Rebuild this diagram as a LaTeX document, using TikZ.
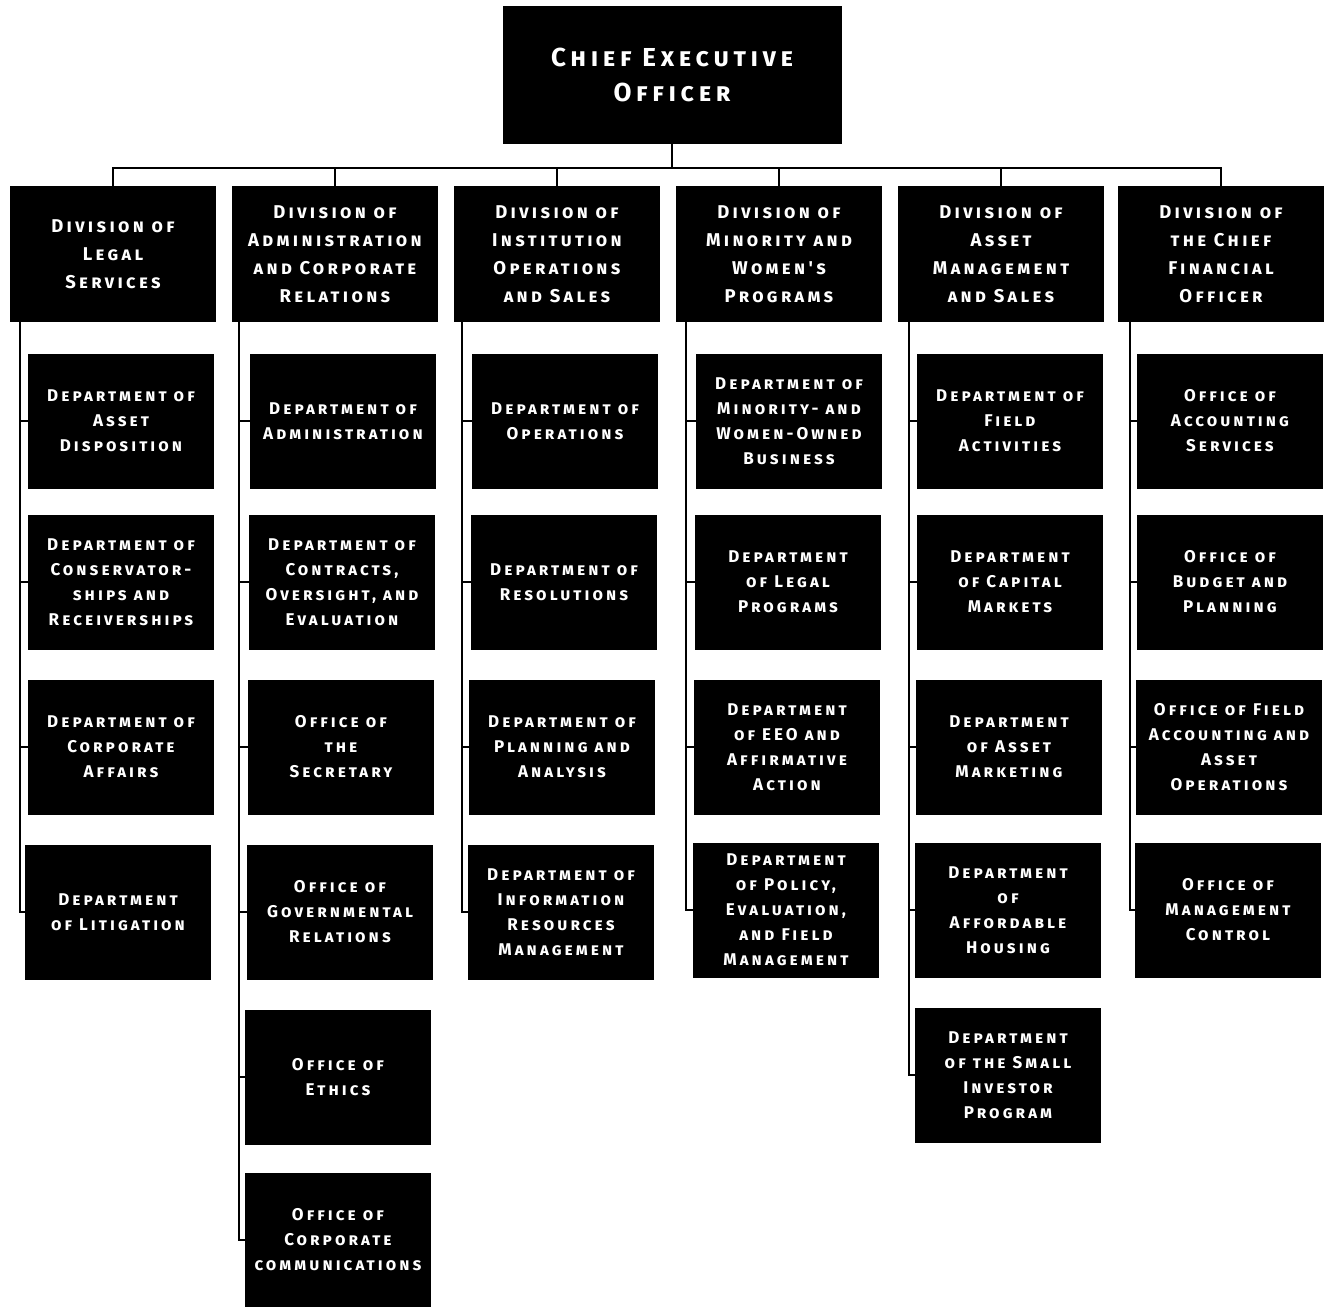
\documentclass[tikz,border=0pt]{standalone}
\usepackage{fontspec}
\newfontfamily\chartfont{Fira Sans}[LetterSpace=18]
\usepackage{tikz}

\begin{document}
\begin{tikzpicture}[x=1pt,y=-1pt,
  ceobox/.style={fill=black,text=white,align=center,inner sep=0pt,minimum width=339pt,minimum height=137pt,font=\chartfont\bfseries\scshape\fontsize{26}{35}\selectfont},
  divbox/.style={fill=black,text=white,align=center,inner sep=0pt,minimum width=206pt,minimum height=136pt,font=\chartfont\bfseries\scshape\fontsize{18.5}{28}\selectfont},
  unitbox/.style={fill=black,text=white,align=center,inner sep=0pt,minimum width=186pt,minimum height=135pt,font=\chartfont\bfseries\scshape\fontsize{17}{25}\selectfont},
  link/.style={line width=1.6pt}]
  \useasboundingbox (0,0) rectangle (1329,1306);
  \node[ceobox] (ceo) at (672,75) {Chief Executive\\Officer};
  \node[divbox] (legal) at (113,254) {Division of\\Legal\\Services};
  \node[divbox] (admin) at (335,254) {Division of\\Administration\\and Corporate\\Relations};
  \node[divbox] (inst) at (557,254) {Division of\\Institution\\Operations\\and Sales};
  \node[divbox] (minority) at (779,254) {Division of\\Minority and\\Women's\\Programs};
  \node[divbox] (asset) at (1001,254) {Division of\\Asset\\Management\\and Sales};
  \node[divbox] (cfo) at (1221,254) {Division of\\the Chief\\Financial\\Officer};
  \coordinate (bus) at (672,168);
  \draw[link] (ceo.south) -- (ceo.south |- bus);
  \draw[link] (legal.north) -- (legal.north |- bus) -- (cfo.north |- bus) -- (cfo.north);
  \foreach \d in {admin,inst,minority,asset}
    \draw[link] (\d.north) -- (\d.north |- bus);
  \node[unitbox] (legal1) at (121,421) {Department of\\Asset\\Disposition};
  \node[unitbox] (legal2) at (121,582) {Department of\\Conservator-\\ships and\\Receiverships};
  \node[unitbox] (legal3) at (121,747) {Department of\\Corporate\\Affairs};
  \node[unitbox] (legal4) at (118,912) {Department\\of Litigation};
  \node[unitbox] (admin1) at (343,421) {Department of\\Administration};
  \node[unitbox] (admin2) at (342,582) {Department of\\Contracts,\\Oversight, and\\Evaluation};
  \node[unitbox] (admin3) at (341,747) {Office of\\the\\Secretary};
  \node[unitbox] (admin4) at (340,912) {Office of\\Governmental\\Relations};
  \node[unitbox] (admin5) at (338,1077) {Office of\\Ethics};
  \node[unitbox] (admin6) at (338,1240) {Office of\\Corporate\\communications};
  \node[unitbox] (inst1) at (565,421) {Department of\\Operations};
  \node[unitbox] (inst2) at (564,582) {Department of\\Resolutions};
  \node[unitbox] (inst3) at (562,747) {Department of\\Planning and\\Analysis};
  \node[unitbox] (inst4) at (561,912) {Department of\\Information\\Resources\\Management};
  \node[unitbox] (minority1) at (789,421) {Department of\\Minority- and\\Women-Owned\\Business};
  \node[unitbox] (minority2) at (788,582) {Department\\of Legal\\Programs};
  \node[unitbox] (minority3) at (787,747) {Department\\of EEO and\\Affirmative\\Action};
  \node[unitbox] (minority4) at (786,910) {Department\\of Policy,\\Evaluation,\\and Field\\Management};
  \node[unitbox] (asset1) at (1010,421) {Department of\\Field\\Activities};
  \node[unitbox] (asset2) at (1010,582) {Department\\of Capital\\Markets};
  \node[unitbox] (asset3) at (1009,747) {Department\\of Asset\\Marketing};
  \node[unitbox] (asset4) at (1008,910) {Department\\of\\Affordable\\Housing};
  \node[unitbox] (asset5) at (1008,1075) {Department\\of the Small\\Investor\\Program};
  \node[unitbox] (cfo1) at (1230,421) {Office of\\Accounting\\Services};
  \node[unitbox] (cfo2) at (1230,582) {Office of\\Budget and\\Planning};
  \node[unitbox] (cfo3) at (1229,747) {Office of Field\\Accounting and\\Asset\\Operations};
  \node[unitbox] (cfo4) at (1228,910) {Office of\\Management\\Control};
  \coordinate (legalspine) at (20,322);
  \coordinate (adminspine) at (239,322);
  \coordinate (instspine) at (462,322);
  \coordinate (minorityspine) at (686,322);
  \coordinate (assetspine) at (909,322);
  \coordinate (cfospine) at (1130,322);
  \draw[link] (legalspine) |- (legal4.west);
  \draw[link] (adminspine) |- (admin6.west);
  \draw[link] (instspine) |- (inst4.west);
  \draw[link] (minorityspine) |- (minority4.west);
  \draw[link] (assetspine) |- (asset5.west);
  \draw[link] (cfospine) |- (cfo4.west);
  \foreach \n in {1,2,3} {
    \draw[link] (legal\n.west -| legalspine) -- (legal\n.west);
    \draw[link] (inst\n.west -| instspine) -- (inst\n.west);
    \draw[link] (minority\n.west -| minorityspine) -- (minority\n.west);
    \draw[link] (cfo\n.west -| cfospine) -- (cfo\n.west);
  }
  \foreach \n in {1,...,5}
    \draw[link] (admin\n.west -| adminspine) -- (admin\n.west);
  \foreach \n in {1,...,4}
    \draw[link] (asset\n.west -| assetspine) -- (asset\n.west);
\end{tikzpicture}
\end{document}
